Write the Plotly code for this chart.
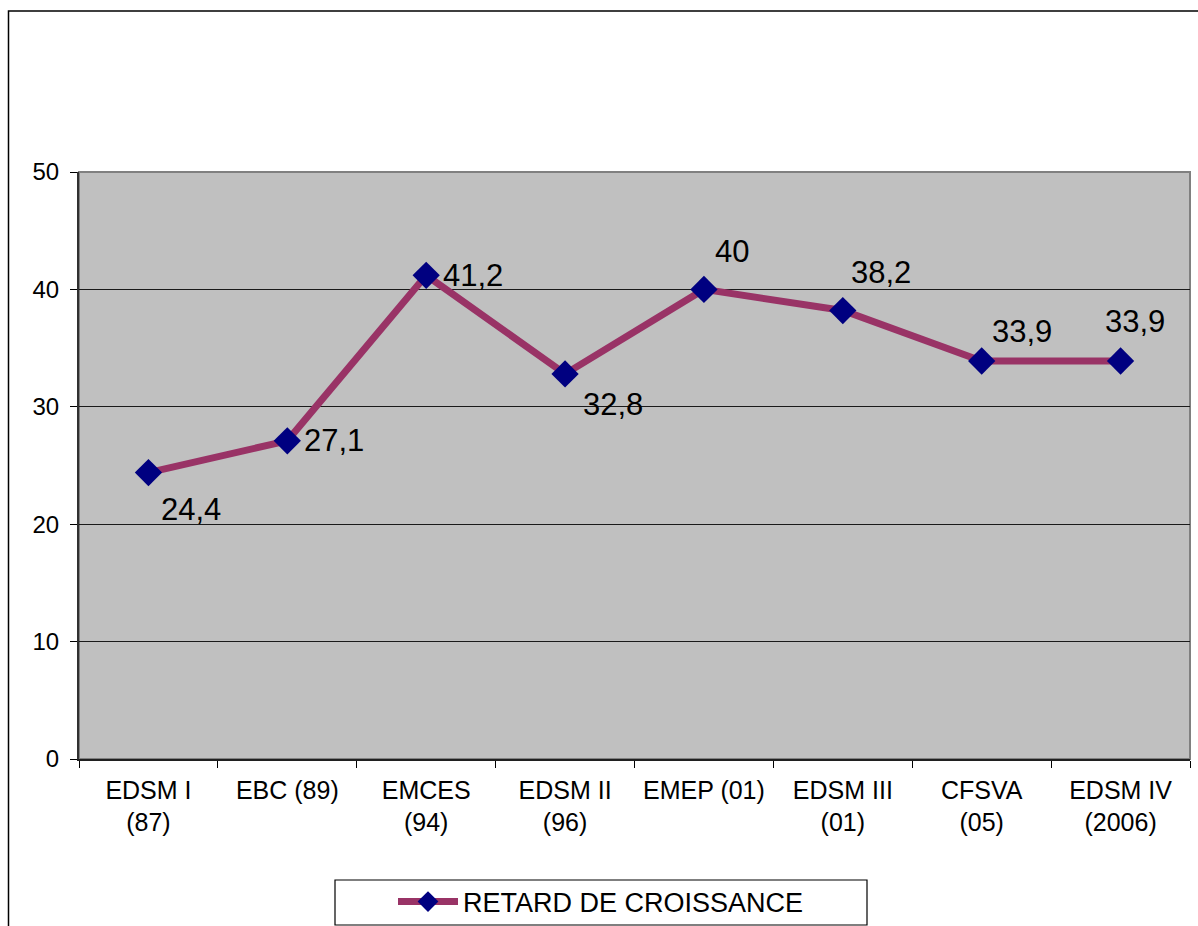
import plotly.graph_objects as go

categories = ["EDSM I<br>(87)", "EBC (89)", "EMCES<br>(94)", "EDSM II<br>(96)", "EMEP (01)",
              "EDSM III<br>(01)", "CFSVA<br>(05)", "EDSM IV<br>(2006)"]
values = [24.4, 27.1, 41.2, 32.8, 40, 38.2, 33.9, 33.9]
labels = ["24,4", "27,1", "41,2", "32,8", "40", "38,2", "33,9", "33,9"]
series_name = "RETARD DE CROISSANCE"

# label offsets in pixels (x, y) relative to each point
label_offsets = [(11, -37), (15, 0), (15, 0), (16, -31), (9, 38), (6, 38), (8, 30), (-18, 40)]

W, H = 1198, 926
L, R, T, B = 79, 8, 172, 167
pw = W - L - R
ph = H - T - B
FONT = "Liberation Sans, Arial"

fig = go.Figure()
fig.add_trace(go.Scatter(
    x=categories, y=values, mode="lines+markers", name=series_name,
    line=dict(color="#993366", width=7),
    marker=dict(symbol="diamond", size=21, color="#000080"),
))

for c, v, t, (dx, dy) in zip(categories, values, labels, label_offsets):
    fig.add_annotation(x=c, y=v, xref="x", yref="y", text=t, showarrow=False,
                       xanchor="left", yanchor="middle", xshift=dx, yshift=dy,
                       font=dict(size=31, color="black", family=FONT))

def px_x(p):
    return (p - L) / pw

def px_y(p):
    return (T + ph - p) / ph

# outer frame
fig.add_shape(type="rect", xref="paper", yref="paper", layer="below",
              x0=px_x(8.5), x1=px_x(W + 20), y0=px_y(H + 20), y1=px_y(11),
              line=dict(color="black", width=1.5), fillcolor="rgba(0,0,0,0)")
# plot area border (gray top/right)
fig.add_shape(type="rect", xref="paper", yref="paper", layer="below",
              x0=0, x1=1, y0=0, y1=1,
              line=dict(color="#808080", width=2), fillcolor="rgba(0,0,0,0)")
# legend box
fig.add_shape(type="rect", xref="paper", yref="paper", layer="below",
              x0=px_x(335), x1=px_x(867), y0=px_y(925), y1=px_y(880),
              line=dict(color="black", width=1.2), fillcolor="white")

fig.update_layout(
    width=W, height=H,
    margin=dict(l=L, r=R, t=T, b=B, autoexpand=False),
    paper_bgcolor="white", plot_bgcolor="#C0C0C0",
    font=dict(family=FONT, color="black", size=25),
    showlegend=True,
    legend=dict(orientation="h", x=px_x(601), xanchor="center",
                y=px_y(902), yanchor="middle",
                borderwidth=0, bgcolor="rgba(0,0,0,0)",
                font=dict(size=27), itemwidth=60),
)
fig.update_xaxes(type="category", showgrid=False, showline=True, linecolor="#202020", linewidth=1.5,
                 ticks="outside", tickson="boundaries", ticklen=7, tickcolor="black",
                 tickfont=dict(size=25), ticklabelstandoff=8, range=[-0.5, 7.5], automargin=False)
fig.update_yaxes(range=[0, 50], dtick=10, showgrid=True, gridcolor="#1a1a1a", gridwidth=1,
                 showline=True, linecolor="#303030", linewidth=2,
                 ticks="outside", ticklen=7, tickcolor="black", tickfont=dict(size=24),
                 ticklabelstandoff=6, zeroline=False, automargin=False)

fig.write_html("out.html", config={"displayModeBar": False},
               post_script="document.body.style.margin='0';document.body.style.overflow='hidden';")
